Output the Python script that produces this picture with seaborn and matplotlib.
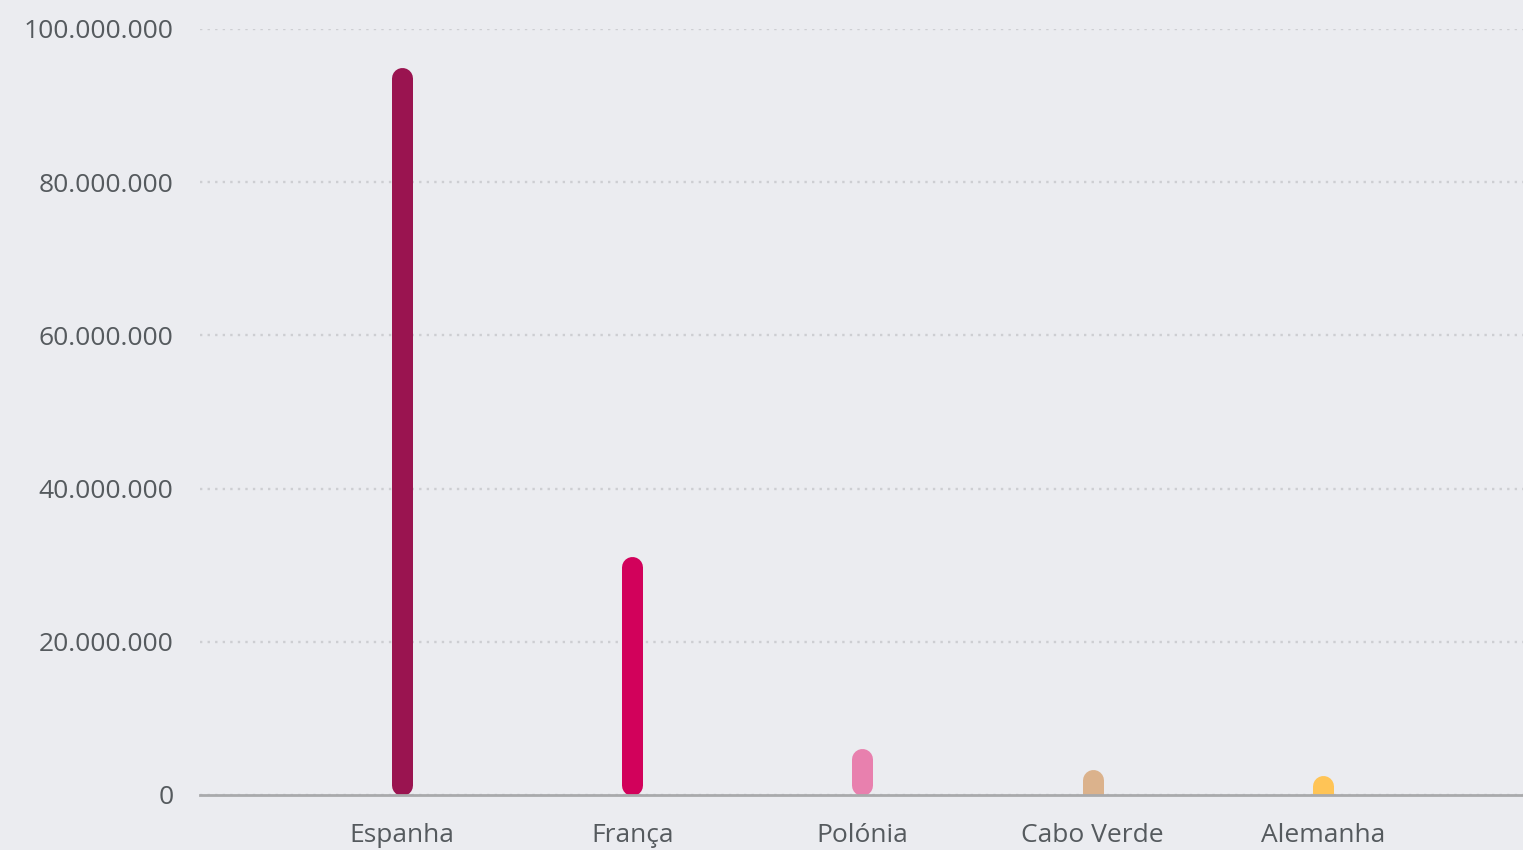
import matplotlib
matplotlib.use("Agg")
import matplotlib.pyplot as plt
import seaborn as sns
import pandas as pd
from matplotlib.lines import Line2D

categories = ["Espanha", "França", "Polónia", "Cabo Verde", "Alemanha"]
values = [95_000_000, 31_200_000, 6_100_000, 3_350_000, 2_600_000]
colors = ["#9a1450", "#d2015b", "#e880ae", "#dbb28c", "#ffc456"]
yticks = [0, 20_000_000, 40_000_000, 60_000_000, 80_000_000, 100_000_000]

def fmt(v):
    return f"{v:,.0f}".replace(",", ".")

sns.set_theme(style="white")
plt.rcParams["font.family"] = ["Open Sans", "DejaVu Sans"]

BG = "#ebecf0"
TXT = "#555a5e"
W, H, DPI = 1523, 850, 100
fig = plt.figure(figsize=(W / DPI, H / DPI), dpi=DPI, facecolor=BG)
ax = fig.add_axes([200 / W, 55 / H, 1323 / W, 766 / H])
ax.set_facecolor(BG)

df = pd.DataFrame({"pais": categories, "valor": values})
sns.barplot(data=df, x="pais", y="valor", hue="pais", palette=colors,
            legend=False, width=0.09, ax=ax, zorder=3)

ax.set_xlim(-0.877, 4.869)
ax.set_ylim(0, 100_000_000)

# rounded bars
bar_px = 21
lw_pt = bar_px * 72 / DPI
r_data = (bar_px / 2) * 100_000_000 / 766
for patch, c in zip(ax.patches, colors):
    xc = patch.get_x() + patch.get_width() / 2
    h = patch.get_height()
    patch.set_visible(False)
    if h > 4 * r_data:
        y0 = r_data
    else:
        y0 = -2 * r_data
    ln = Line2D([xc, xc], [y0, h - r_data], color=c, linewidth=lw_pt,
                solid_capstyle="round", zorder=3)
    ln.set_clip_on(True)
    ax.add_line(ln)

ax.set_yticks(yticks)
ax.set_yticklabels([fmt(v) for v in yticks])
ax.yaxis.grid(True, color="#cdced2", linestyle=(0, (1, 2.2)), linewidth=1.7, zorder=0)
ax.xaxis.grid(False)
for s in ["top", "right", "left"]:
    ax.spines[s].set_visible(False)
ax.spines["bottom"].set_color("#a9aaac")
ax.spines["bottom"].set_linewidth(2)
ax.spines["bottom"].set_zorder(4)

ax.tick_params(axis="y", length=0, pad=19, labelsize=19, labelcolor=TXT)
ax.tick_params(axis="x", length=0, pad=20, labelsize=19, labelcolor=TXT)
ax.set_xlabel("")
ax.set_ylabel("")

fig.savefig("out.png", dpi=DPI, facecolor=BG)
